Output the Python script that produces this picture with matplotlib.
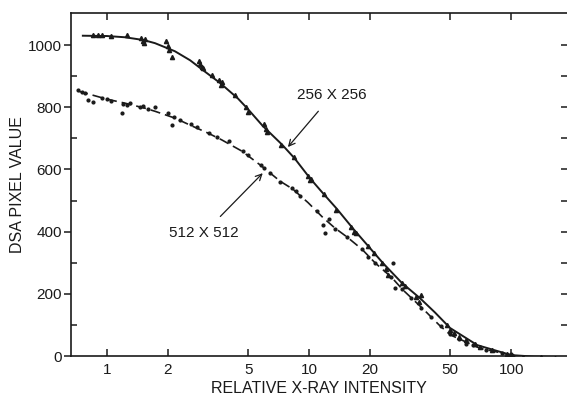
import numpy as np
import matplotlib
matplotlib.use("Agg")
import matplotlib.pyplot as plt
from matplotlib.ticker import FixedLocator, NullFormatter, FixedFormatter

plt.rcParams['font.family'] = ['Liberation Sans', 'DejaVu Sans']

INK = '#1a1a1a'

# fitted curves
x_256 = [0.76, 1.0, 1.23, 1.52, 1.73, 2.17, 2.58, 2.99, 3.63, 4.45, 4.97, 5.9,
         7.35, 8.5, 10.1, 11.7, 13.7, 16.6, 19.6, 23.2, 28.8, 35.4, 42, 49.9,
         68, 100, 130, 185]
y_256 = [1030, 1029, 1025, 1016, 1006, 980, 951, 919, 878, 828, 795, 740,
         680, 635, 572, 524, 474, 408, 354, 299, 235, 186, 140, 90,
         35, 3, -2, -4]

x_512 = [0.72, 1.0, 1.23, 1.54, 1.73, 2.17, 2.63, 3.16, 3.7, 4.65, 5.85, 7.2,
         8.3, 9.9, 11.6, 13.4, 15.4, 18.3, 21.2, 25.7, 29.2, 36.6, 44, 50,
         70, 100]
y_512 = [852, 826, 813, 797, 787, 765, 740, 717, 695, 659, 610, 562,
         537, 493, 448, 412, 383, 343, 300, 252, 212, 152, 100, 68,
         25, 3]

# measured points
px_256 = [0.85, 0.9, 0.95, 1.05, 1.25, 1.48, 1.5, 1.52, 1.55, 1.95, 2.0, 2.02,
          2.1, 2.85, 2.9, 2.95, 3.0, 3.3, 3.6, 3.65, 3.7, 4.3, 4.9, 5.0, 6.0,
          6.1, 6.2, 7.3, 8.4, 9.9, 10.1, 10.2, 11.8, 13.6, 16.2, 16.6, 17.0,
          19.5, 21, 23, 24, 24.5, 29, 30, 34, 35, 36, 48, 50, 52, 55, 60, 66,
          70, 80, 95, 100, 102, 115, 140, 165]
py_256 = [1032, 1033, 1031, 1030, 1032, 1022, 1012, 1005, 1020, 1012, 998, 985,
          960, 950, 940, 930, 925, 905, 888, 870, 880, 840, 800, 785, 745,
          730, 720, 680, 640, 580, 565, 570, 520, 470, 415, 400, 395,
          355, 330, 300, 280, 262, 235, 225, 190, 175, 195, 100, 85, 75, 60, 50, 40,
          30, 18, 8, 3, 0, -2, -3, -5]

px_512 = [0.72, 0.75, 0.78, 0.81, 0.85, 0.95, 1.0, 1.05, 1.19, 1.2, 1.25, 1.3,
          1.45, 1.5, 1.6, 1.73, 2.0, 2.1, 2.15, 2.3, 2.6, 2.8, 3.2, 3.5, 4.0,
          4.7, 5.0, 5.8, 6.0, 6.4, 7.2, 8.2, 8.6, 9.0, 11.0, 11.7, 12.0, 12.5,
          13.5, 15.5, 18.3, 19.5, 21.2, 25.5, 26, 26.6, 29, 32, 36, 40, 45, 50,
          55, 60, 65, 75, 90, 100]
py_512 = [855, 848, 845, 823, 817, 830, 826, 820, 781, 812, 808, 815,
          800, 805, 795, 800, 780, 743, 768, 760, 745, 735, 718, 705, 690,
          660, 645, 615, 605, 590, 560, 540, 530, 515, 465, 421, 395, 440,
          410, 382, 345, 320, 300, 255, 299, 218, 215, 185, 155, 125, 95, 70,
          55, 40, 35, 20, 10, 5]

x_ticks = [1, 2, 5, 10, 20, 50, 100]
x_ticklabels = ['1', '2', '5', '10', '20', '50', '100']
y_major = [0, 200, 400, 600, 800, 1000]
y_minor = [100, 300, 500, 700, 900]
y_right = [100, 200, 300, 400, 500, 600, 700, 800, 900, 1000]

fig = plt.figure(figsize=(5.67, 4.03), dpi=100)
ax = fig.add_axes([0.1252, 0.1166, 0.8748, 0.8511])

ax.plot(x_256, y_256, color=INK, lw=1.4)
ax.plot(x_512, y_512, color=INK, lw=1.2, dashes=(6, 3))
ax.plot(px_256, py_256, linestyle='none', marker='^', ms=3, color=INK)
ax.plot(px_512, py_512, linestyle='none', marker='o', ms=2, color=INK)

ax.set_xscale('log')
ax.set_xlim(0.664, 189)
ax.set_ylim(0, 1103)

ax.xaxis.set_major_locator(FixedLocator(x_ticks))
ax.xaxis.set_major_formatter(FixedFormatter(x_ticklabels))
ax.xaxis.set_minor_locator(FixedLocator([]))
ax.xaxis.set_minor_formatter(NullFormatter())
ax.yaxis.set_major_locator(FixedLocator(y_major))
ax.yaxis.set_minor_locator(FixedLocator(y_minor))

ax.tick_params(axis='x', which='major', direction='in', length=5, width=1.1,
               top=True, bottom=True, pad=5, labelsize=11, colors=INK)
ax.tick_params(axis='y', which='major', direction='out', length=5, width=1.1,
               pad=1.5, labelsize=11, colors=INK)
ax.tick_params(axis='y', which='minor', direction='in', length=4, width=1.1,
               colors=INK)

for side in ['left', 'bottom', 'top']:
    ax.spines[side].set_linewidth(1.2)
    ax.spines[side].set_color(INK)
ax.spines['right'].set_visible(False)

# right-hand ticks only, no spine
ax2 = ax.twinx()
ax2.set_ylim(0, 1103)
ax2.yaxis.set_major_locator(FixedLocator(y_right))
ax2.tick_params(axis='y', direction='in', length=4, width=1.1, labelright=False,
                colors=INK)
for side in ['left', 'bottom', 'top', 'right']:
    ax2.spines[side].set_visible(False)

ax.set_xlabel('RELATIVE X-RAY INTENSITY', fontsize=11.5, color=INK, labelpad=3)
ax.set_ylabel('DSA PIXEL VALUE', fontsize=11.5, color=INK, labelpad=2)

ax.annotate('256 X 256', xy=(7.86, 672), xytext=(13.0, 839), ha='center',
            va='center', fontsize=11, color=INK,
            arrowprops=dict(arrowstyle='->', color=INK, lw=0.9,
                            shrinkA=6, shrinkB=0))
ax.annotate('512 X 512', xy=(5.9, 588), xytext=(3.02, 395), ha='center',
            va='center', fontsize=11, color=INK,
            arrowprops=dict(arrowstyle='->', color=INK, lw=0.9,
                            shrinkA=7, shrinkB=0))

plt.savefig('out.png', dpi=100)
